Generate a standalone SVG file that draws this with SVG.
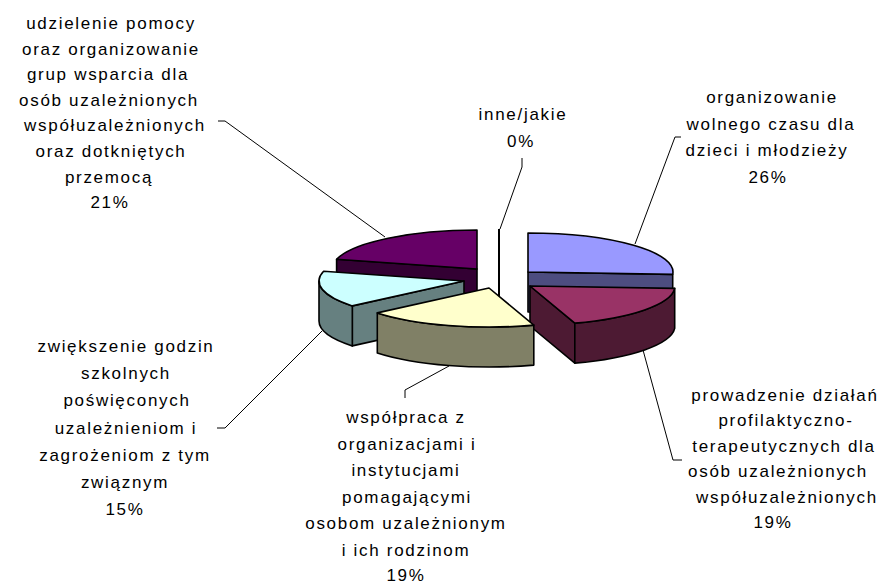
<svg xmlns="http://www.w3.org/2000/svg" width="885" height="585" viewBox="0 0 885 585">
<style>
.lbl{font-family:"Liberation Sans",Arial,sans-serif;font-size:17px;fill:#000;text-anchor:middle;letter-spacing:1.7px}
.edge{stroke:#000;stroke-width:1.6;stroke-linejoin:round}
.lead{fill:none;stroke:#000;stroke-width:1}
</style>
<defs>
<clipPath id="clipCyan"><rect x="0" y="330" width="218" height="200"/></clipPath>
<clipPath id="clipYellow"><rect x="290" y="400" width="220" height="185"/></clipPath>
<clipPath id="clipMaroon"><rect x="670" y="375" width="211" height="160"/></clipPath>
</defs>
<rect width="885" height="585" fill="#fff"/>

<g id="slice-purple">
<path class="edge" fill="#330033" d="M477,269 L336.6,259.3 L336.6,299.3 L477,309 Z"/>
<path class="edge" fill="#660066" d="M477,269 L336.6,259.3 A145,39 0 0 1 477,230 Z"/>
</g>

<g id="slice-inne">
<line x1="499" y1="229" x2="499" y2="310" stroke="#000" stroke-width="2"/>
</g>

<g id="slice-blue">
<path class="edge" fill="#4D4D80" d="M528,272 L672.7,274.4 L672.7,314.4 L528,312 Z"/>
<path class="edge" fill="#9999FF" d="M528,272 L528,233 A145,39 0 0 1 672.7,274.4 Z"/>
</g>

<g id="slice-cyan">
<path class="edge" fill="#668080" d="M464,281 L352.3,305.9 L352.3,345.9 L464,321 Z"/>
<path class="edge" fill="#668080" d="M352.3,305.9 A145,39 0 0 1 319,281 L319,321 A145,39 0 0 0 352.3,345.9 Z"/>
<path class="edge" fill="#CCFFFF" d="M464,281 L352.3,305.9 A145,39 0 0 1 323.6,271.3 Z"/>
</g>

<g id="slice-maroon">
<path class="edge" fill="#4D1A33" d="M530,286 L574.8,323.1 L574.8,363.1 L530,326 Z"/>
<path class="edge" fill="#4D1A33" d="M674.7,288.4 A145,39 0 0 1 574.8,323.1 L574.8,363.1 A145,39 0 0 0 674.7,328.4 Z"/>
<path class="edge" fill="#993366" d="M530,286 L674.7,288.4 A145,39 0 0 1 574.8,323.1 Z"/>
</g>

<g id="slice-yellow">
<path class="edge" fill="#808066" d="M533.8,325.1 A145,39 0 0 1 377.3,312.9 L377.3,352.9 A145,39 0 0 0 533.8,365.1 Z"/>
<path class="edge" fill="#FFFFCC" d="M489,288 L533.8,325.1 A145,39 0 0 1 377.3,312.9 Z"/>
</g>

<g id="connectors">
<polyline class="lead" points="218,121 225,121 385,237"/>
<polyline class="lead" points="522,158 522,167 500,229"/>
<polyline class="lead" points="681,137 675,137 635,244"/>
<polyline class="lead" points="643,350 673,460 682,460"/>
<polyline class="lead" points="449,366 405,390 405,398"/>
<polyline class="lead" points="217,428 225,428 322,331"/>
</g>

<g id="label-purple">
<text class="lbl" x="111" y="29">udzielenie pomocy</text>
<text class="lbl" x="111" y="54.6">oraz organizowanie</text>
<text class="lbl" x="108" y="80.2">grup wsparcia dla</text>
<text class="lbl" x="109" y="105.8">osób uzależnionych</text>
<text class="lbl" x="115" y="131.4">współuzależnionych</text>
<text class="lbl" x="111" y="157">oraz dotkniętych</text>
<text class="lbl" x="109" y="182.6">przemocą</text>
<text class="lbl" x="110" y="208.2">21%</text>
</g>

<g id="label-blue">
<text class="lbl" x="772" y="103">organizowanie</text>
<text class="lbl" x="771" y="129.5">wolnego czasu dla</text>
<text class="lbl" x="767" y="156">dzieci i młodzieży</text>
<text class="lbl" x="768" y="182.5">26%</text>
</g>

<g id="label-inne">
<text class="lbl" x="523" y="120">inne/jakie</text>
<text class="lbl" x="521" y="147">0%</text>
</g>

<g id="label-maroon" clip-path="url(#clipMaroon)">
<text class="lbl" x="785" y="401">prowadzenie działań</text>
<text class="lbl" x="786" y="426.4">profilaktyczno-</text>
<text class="lbl" x="784" y="451.8">terapeutycznych dla</text>
<text class="lbl" x="778" y="477.2">osób uzależnionych</text>
<text class="lbl" x="787" y="502.6">współuzależnionych</text>
<text class="lbl" x="773" y="528">19%</text>
</g>

<g id="label-yellow" clip-path="url(#clipYellow)">
<text class="lbl" x="406" y="423">współpraca z</text>
<text class="lbl" x="407" y="449.5">organizacjami i</text>
<text class="lbl" x="406" y="476">instytucjami</text>
<text class="lbl" x="407" y="502.5">pomagającymi</text>
<text class="lbl" x="406" y="529">osobom uzależnionym</text>
<text class="lbl" x="406" y="555.5">i ich rodzinom</text>
<text class="lbl" x="406" y="581">19%</text>
</g>

<g id="label-cyan" clip-path="url(#clipCyan)">
<text class="lbl" x="126" y="352">zwiększenie godzin</text>
<text class="lbl" x="126" y="379.2">szkolnych</text>
<text class="lbl" x="127" y="406.3">poświęconych</text>
<text class="lbl" x="126" y="433.5">uzależnieniom i</text>
<text class="lbl" x="125" y="460.7">zagrożeniom z tym</text>
<text class="lbl" x="125" y="487.8">związnym</text>
<text class="lbl" x="125" y="515">15%</text>
</g>
</svg>
